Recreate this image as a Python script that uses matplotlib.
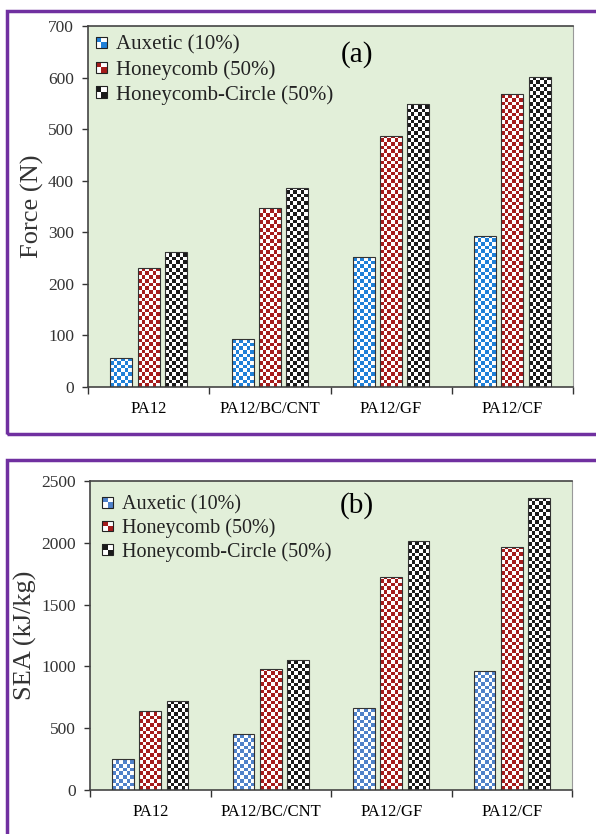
import numpy as np
import matplotlib
matplotlib.use('Agg')
import matplotlib.pyplot as plt
from matplotlib.patches import Rectangle
from matplotlib.legend_handler import HandlerBase

# datos
categorias = ['PA12', 'PA12/BC/CNT', 'PA12/GF', 'PA12/CF']
series = ['Auxetic (10%)', 'Honeycomb (50%)', 'Honeycomb-Circle (50%)']

fuerza_auxetic = [56, 93, 253, 293]
fuerza_honeycomb = [231, 347, 487, 569]
fuerza_circle = [262, 386, 549, 601]

sea_auxetic = [250, 452, 662, 965]
sea_honeycomb = [637, 982, 1722, 1968]
sea_circle = [724, 1050, 2018, 2362]

colores_a = ['#1f80d8', '#a51c1c', '#1a1a1a']
colores_b = ['#4f81c9', '#a51c1c', '#1a1a1a']

plt.rcParams['font.family'] = ['Liberation Serif', 'DejaVu Serif']

fig = plt.figure(figsize=(5.96, 8.34), dpi=100)

# marcos morados
fig.patches.append(Rectangle((7 / 596, 1 - 434 / 834), 0.99, 423 / 834, transform=fig.transFigure,
                             fill=False, edgecolor='#7030a0', linewidth=2.5, clip_on=False))
fig.patches.append(Rectangle((7 / 596, -0.05), 0.99, 0.05 + 374 / 834, transform=fig.transFigure,
                             fill=False, edgecolor='#7030a0', linewidth=2.5, clip_on=False))

ax_a = fig.add_axes([88 / 596, 1 - 387 / 834, 485 / 596, 361 / 834])
ax_b = fig.add_axes([90 / 596, 1 - 790 / 834, 482 / 596, 309 / 834])

CELDA = 3.7  # tamaño del cuadro del damero en pixeles
ANCHO = 0.18
OFFSETS = [-0.225, 0.0, 0.225]


def damero(ax, barras, color, ymax):
    ancho_px = ax.bbox.width / len(categorias)
    alto_px = ax.bbox.height
    rgb = np.array(matplotlib.colors.to_rgb(color))
    for b in barras:
        x0, w, h = b.get_x(), b.get_width(), b.get_height()
        ncol = max(2, int(round(w * ancho_px / CELDA)))
        cel_y = CELDA * ymax / alto_px
        nfil = int(np.ceil(h / cel_y)) + 1
        ii, jj = np.indices((nfil, ncol))
        img = np.ones((nfil, ncol, 3))
        img[(ii + jj) % 2 == 0] = rgb
        im = ax.imshow(img, extent=(x0, x0 + w, 0, nfil * cel_y), origin='lower',
                       interpolation='nearest', aspect='auto', zorder=2)
        im.set_clip_path(b)


class HandlerDamero(HandlerBase):
    def create_artists(self, legend, orig_handle, xdescent, ydescent, width, height, fontsize, trans):
        lado = height * 1.0
        x0 = -xdescent + width - lado
        y0 = -ydescent
        c = orig_handle.get_facecolor()
        arts = []
        for (i, j) in [(0, 0), (1, 1), (0, 1), (1, 0)]:
            fc = c if (i + j) % 2 == 1 else 'white'
            arts.append(Rectangle((x0 + i * lado / 2, y0 + j * lado / 2), lado / 2, lado / 2,
                                  facecolor=fc, edgecolor='none', transform=trans))
        arts.append(Rectangle((x0, y0), lado, lado, facecolor='none', edgecolor='#222222',
                              linewidth=0.8, transform=trans))
        return arts


def panel(ax, datos, colores, ymax, paso, ylabel, letra, legend_kw):
    ax.set_facecolor('#e2efd9')
    x = np.arange(len(categorias))
    ax.set_xlim(-0.5, len(categorias) - 0.5)
    ax.set_ylim(0, ymax)
    for k, vals in enumerate(datos):
        barras = ax.bar(x + OFFSETS[k], vals, ANCHO, facecolor='none',
                        edgecolor='#333333', linewidth=0.8, zorder=3)
        damero(ax, barras, colores[k], ymax)
    ax.set_xlim(-0.5, len(categorias) - 0.5)
    ax.set_ylim(0, ymax)

    ax.set_xticks(x)
    ax.set_xticklabels(categorias, fontsize=12)
    ax.set_xticks(np.arange(len(categorias) + 1) - 0.5, minor=True)
    ax.tick_params(axis='x', which='major', length=0, pad=10)
    ax.tick_params(axis='x', which='minor', length=5, width=1, color='#333333')
    ax.set_yticks(np.arange(0, ymax + 1, paso))
    ax.tick_params(axis='y', length=4, width=1, color='#333333', labelsize=12.5, labelcolor='#333333', pad=6)
    for s in ['left', 'bottom', 'top']:
        ax.spines[s].set_color('#444444')
        ax.spines[s].set_linewidth(1.2)
    ax.spines['right'].set_color('#999999')
    ax.set_ylabel(ylabel, fontsize=19, color='#333333', labelpad=3)
    ax.text(0.554, 0.92, letra, transform=ax.transAxes, fontsize=21, ha='center', va='center')

    proxies = [Rectangle((0, 0), 1, 1, facecolor=c) for c in colores]
    ax.legend(proxies, series, handler_map={Rectangle: HandlerDamero()}, frameon=False,
              loc='upper left', handletextpad=0.45, borderaxespad=0.15,
              labelcolor='#222222', **legend_kw)


panel(ax_a, [fuerza_auxetic, fuerza_honeycomb, fuerza_circle], colores_a, 700, 100,
      'Force (N)', '(a)', dict(fontsize=15, labelspacing=0.25, borderpad=0.3,
                               handlelength=0.45, handleheight=0.45))
panel(ax_b, [sea_auxetic, sea_honeycomb, sea_circle], colores_b, 2500, 500,
      'SEA (kJ/kg)', '(b)', dict(fontsize=14.5, labelspacing=0.2, borderpad=0.55,
                                 handlelength=0.45, handleheight=0.45))

plt.savefig('out.png', dpi=100)
